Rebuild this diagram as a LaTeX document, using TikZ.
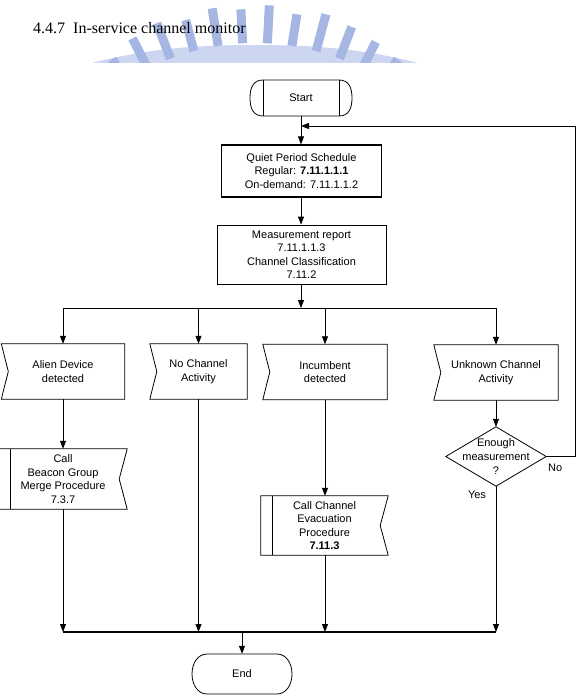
\documentclass[tikz,border=0pt]{standalone}
\usepackage{fontspec}
\setmainfont{Liberation Sans}
\newfontfamily\titlefont{Liberation Serif}
\usetikzlibrary{arrows.meta,calc}
\definecolor{wmbar}{RGB}{165,182,226}
\definecolor{wmband}{RGB}{205,214,240}
\newcommand{\notchleft}[1]{\draw[outline] (#1.north west) -- (#1.north east) -- (#1.south east) -- (#1.south west) -- ($(#1.west)+(7,0)$) -- cycle;}
\newcommand{\notchright}[2]{\draw[outline] (#1.north west) -- (#1.north east) -- ($(#1.east)+(-8,0)$) -- (#1.south east) -- (#1.south west) -- cycle; \draw[outline] ($(#1.north west)+(#2,0)$) -- ($(#1.south west)+(#2,0)$);}
\begin{document}
\begin{tikzpicture}[x=1pt,y=-1pt,
  box/.style={draw=none, inner sep=0pt, align=center, font=\fontsize{11}{13.5}\selectfont},
  outline/.style={draw=black, line width=0.8pt},
  conn/.style={line width=0.8pt, -{Triangle[length=8pt,width=6pt]}},
  plain/.style={line width=0.8pt},
  lbl/.style={inner sep=0pt, font=\fontsize{11}{13}\selectfont}]
\useasboundingbox (0,0) rectangle (579,699);
% watermark
\begin{scope}
  \clip (0,0) rectangle (579,62);
  \fill[wmband] (92,63) .. controls (150,48) and (200,45) .. (255,45) .. controls (310,45) and (360,48) .. (418,63) -- cycle;
  \foreach \t/\r in {-33/262,-27/270,-21/274,-15/268,-9/274,-3/270,3/274,9/268,15/274,21/270,27/266,33/262}
    \draw[wmbar, line width=9pt] ({255+236*sin(\t)},{279-236*cos(\t)}) -- ({255+\r*sin(\t)},{279-\r*cos(\t)});
\end{scope}
\node[anchor=base west, inner sep=0pt, font=\titlefont\fontsize{16}{19}\selectfont] (title) at (33,33) {4.4.7\hspace{8pt}In-service channel monitor};

% nodes
\node[box, minimum width=102pt, minimum height=36pt] (start) at (301,98) {Start};
\draw[outline] ($(start)+(-38,-18)$) -- ($(start)+(38,-18)$) .. controls ($(start)+(48,-18)$) and ($(start)+(51,-10)$) .. ($(start)+(51,0)$) .. controls ($(start)+(51,10)$) and ($(start)+(48,18)$) .. ($(start)+(38,18)$) -- ($(start)+(-38,18)$) .. controls ($(start)+(-48,18)$) and ($(start)+(-51,10)$) .. ($(start)+(-51,0)$) .. controls ($(start)+(-51,-10)$) and ($(start)+(-48,-18)$) .. cycle;
\draw[outline] ($(start)+(-38,-18)$) -- ($(start)+(-38,18)$) ($(start)+(38,-18)$) -- ($(start)+(38,18)$);

\node[box, draw, line width=1.2pt, minimum width=160pt, minimum height=52pt] (quiet) at (301.5,171) {Quiet Period Schedule\\Regular: \textbf{7.11.1.1.1}\\On-demand: 7.11.1.1.2};
\node[box, draw, line width=0.8pt, minimum width=169pt, minimum height=59pt] (meas) at (301.5,254.5) {Measurement report\\7.11.1.1.3\\Channel Classification\\7.11.2};

\node[box, minimum width=123pt, minimum height=55pt] (alien) at (63,371.5) {Alien Device\\detected};
\node[box, minimum width=97pt, minimum height=55pt] (nochan) at (198.5,371.5) {No Channel\\Activity};
\node[box, minimum width=124pt, minimum height=55pt] (incumb) at (325,372) {Incumbent\\detected};
\node[box, minimum width=124pt, minimum height=55pt] (unknown) at (496,372.5) {Unknown Channel\\Activity};
\notchleft{alien}
\notchleft{nochan}
\notchleft{incumb}
\notchleft{unknown}

\node[box, minimum width=128pt, minimum height=60pt] (beacon) at (63,479) {Call\\Beacon Group\\Merge Procedure\\7.3.7};
\notchright{beacon}{12}
\node[box, minimum width=127pt, minimum height=59pt] (callch) at (324.5,525.5) {Call Channel\\Evacuation\\Procedure\\\textbf{7.11.3}};
\notchright{callch}{12}

\node[box, minimum width=100pt, minimum height=59pt, font=\fontsize{11}{14}\selectfont] (dec) at (496,456.5) {Enough\\measurement\\?};
\draw[outline] (dec.north) -- (dec.east) -- (dec.south) -- (dec.west) -- cycle;

\node[box, minimum width=100pt, minimum height=40pt] (end) at (242,674) {End};
\draw[outline] ($(end)+(-35,-20)$) -- ($(end)+(35,-20)$) .. controls ($(end)+(44,-20)$) and ($(end)+(50,-11)$) .. ($(end)+(50,0)$) .. controls ($(end)+(50,11)$) and ($(end)+(44,20)$) .. ($(end)+(35,20)$) -- ($(end)+(-35,20)$) .. controls ($(end)+(-44,20)$) and ($(end)+(-50,11)$) .. ($(end)+(-50,0)$) .. controls ($(end)+(-50,-11)$) and ($(end)+(-44,-20)$) .. cycle;

\node[lbl, anchor=west] (no) at (548,468) {No};
\node[lbl] (yes) at (477,495) {Yes};

% connectors
\coordinate (fb) at (301,126);
\coordinate (fbr) at (575,126);
\coordinate (br) at (301,308);
\coordinate (bl) at (242,632);
\draw[conn] (start.south) -- (start.south |- quiet.north);
\draw[conn] (quiet.south -| start.south) -- (meas.north -| start.south);
\draw[conn] (meas.south -| br) -- (br);
\draw[plain] (alien.north |- br) -- (unknown.north |- br);
\draw[conn] (alien.north |- br) -- (alien.north);
\draw[conn] (nochan.north |- br) -- (nochan.north);
\draw[conn] (incumb.north |- br) -- (incumb.north);
\draw[conn] (unknown.north |- br) -- (unknown.north);
\draw[conn] (alien.south) -- (beacon.north);
\draw[conn] (incumb.south) -- (incumb.south |- callch.north);
\draw[conn] (unknown.south) -- (dec.north);
\draw[conn] (dec.east) -| (fbr) -- (fb);
\draw[conn] (beacon.south) -- (beacon.south |- bl);
\draw[conn] (nochan.south) -- (nochan.south |- bl);
\draw[conn] (callch.south -| incumb.south) -- (incumb.south |- bl);
\draw[conn] (dec.south) -- (dec.south |- bl);
\draw[line width=1.3pt] (beacon.south |- bl) -- (dec.south |- bl);
\draw[conn] (bl) -- (end.north);
\end{tikzpicture}
\end{document}
